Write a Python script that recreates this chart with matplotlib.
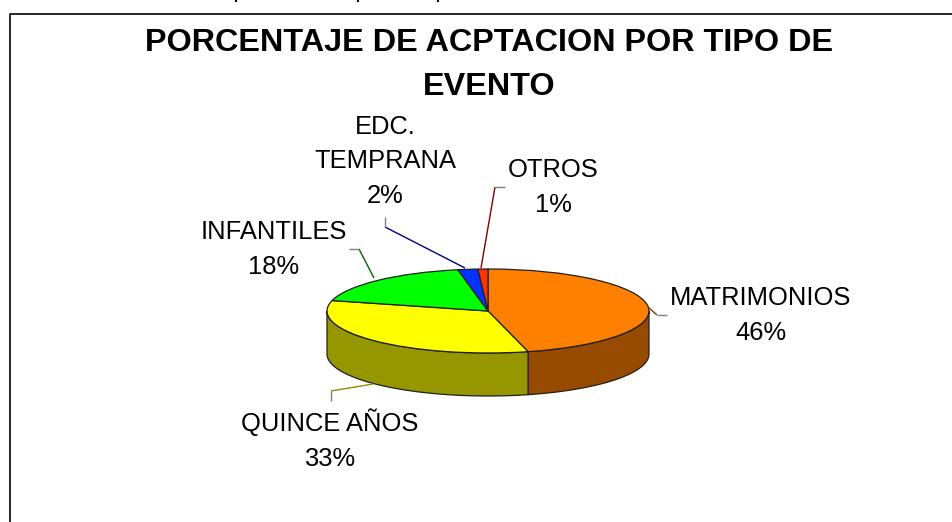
import numpy as np
import matplotlib
matplotlib.use("Agg")
import matplotlib.pyplot as plt
from matplotlib.patches import Polygon

categories = ["MATRIMONIOS", "QUINCE AÑOS", "INFANTILES", "EDC.\nTEMPRANA", "OTROS"]
values = [46, 33, 18, 2, 1]
top_colors = ["#FF8000", "#FFFF00", "#00FF00", "#0033FF", "#FF3300"]
side_colors = ["#964B00", "#969600", "#009600", "#001E96", "#961E00"]
leader_colors = ["#7A3C00", "#8F8F00", "#006400", "#000080", "#800000"]
title = "PORCENTAJE DE ACPTACION POR TIPO DE\nEVENTO"

W, H = 952, 522
plt.rcParams["font.family"] = ["Liberation Sans", "DejaVu Sans"]
fig = plt.figure(figsize=(W / 100, H / 100), dpi=100, facecolor="white")

# overlay in pixel coordinates
ov = fig.add_axes([0, 0, 1, 1], zorder=3)
ov.set_xlim(0, W)
ov.set_ylim(H, 0)
ov.axis("off")

# pie: an ellipse obtained from an unequal-aspect axes
cx, cy, a, b, depth = 488, 311, 161, 42, 43
ax = fig.add_axes([(cx - a) / W, 1 - (cy + b) / H, 2 * a / W, 2 * b / H], zorder=2)
ax.pie(values, colors=top_colors, startangle=90, counterclock=False, radius=1,
       wedgeprops=dict(edgecolor="#202020", linewidth=0.9, zorder=3))
ax.set_aspect("auto")
ax.set_xlim(-1, 1)
ax.set_ylim(-1, 1)

# side wall, computed from the same values
d = depth / b
edges = np.cumsum([0] + values) / sum(values) * 2 * np.pi
for i in range(len(values)):
    t0, t1 = edges[i], edges[i + 1]
    t0c, t1c = max(t0, np.pi / 2), min(t1, 3 * np.pi / 2)
    if t1c <= t0c:
        continue
    t = np.linspace(t0c, t1c, 120)
    xs, ys = np.sin(t), np.cos(t)
    pts = np.r_[np.c_[xs, ys], np.c_[xs[::-1], ys[::-1] - d]]
    ax.add_patch(Polygon(pts, closed=True, facecolor=side_colors[i], edgecolor="#202020",
                         linewidth=0.9, zorder=1, clip_on=False))

# border of the chart area, running off the right and bottom
ov.plot([10, 10, W], [H, 13.5, 13.5], color="black", lw=1.2, solid_capstyle="butt")

# remains of cropped text at the top edge
for x in (236, 358, 438):
    ov.plot([x, x], [0, 1.5], color="black", lw=1.5, solid_capstyle="butt")

title_lines = title.split("\n")
ov.text(489, 51, title_lines[0], ha="center", va="baseline", fontsize=23.3, fontweight="bold")
ov.text(489, 95, title_lines[1], ha="center", va="baseline", fontsize=23.3, fontweight="bold")

# labels: centre x, baseline y of the first line
label_pos = [(761, 305), (330, 431), (274, 239), (385.5, 134), (553, 177)]
line_step = 34.5
for cat, val, (x, y) in zip(categories, values, label_pos):
    lines = cat.split("\n") + [f"{val}%"]
    for j, line in enumerate(lines):
        ov.text(x, y + j * line_step, line, ha="center", va="baseline", fontsize=18.4, color="black")

# leader lines: slice end, elbow, label end
leaders = [
    [(648, 307), (657, 315), (667, 315)],
    [(373, 384), (331, 391), (331, 401)],
    [(374, 278), (359, 249), (349, 249)],
    [(465, 268), (385, 227), (385, 217)],
    [(481, 268), (495, 187), (505, 187)],
]
for pts, col in zip(leaders, leader_colors):
    p = np.array(pts)
    ov.plot(p[:2, 0], p[:2, 1], color=col, lw=1.0, solid_capstyle="butt")
    ov.plot(p[1:, 0], p[1:, 1], color="#808080", lw=1.0, solid_capstyle="butt")

fig.savefig("out.png", dpi=100, facecolor="white")
